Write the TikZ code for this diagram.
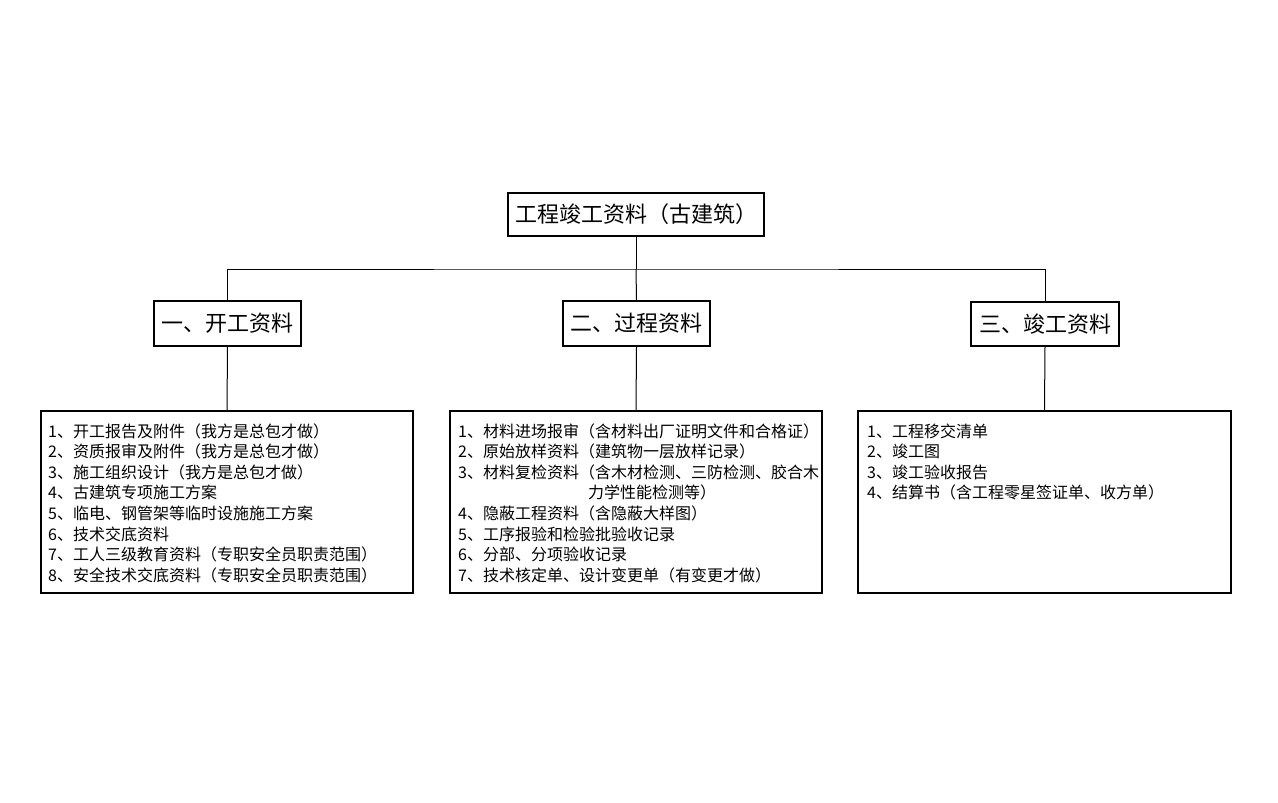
\documentclass[tikz,border=0pt]{standalone}
\usepackage{fontspec}
\newfontfamily\cjk{Noto Sans CJK SC}
\begin{document}
\begin{tikzpicture}[x=1pt,y=-1pt,
  box/.style={draw=black,line width=1.8pt,inner sep=0pt},
  head/.style={box,fill=white,font=\cjk\fontsize{22}{26}\selectfont},
  item/.style={anchor=base west,inner sep=0pt,font=\cjk\fontsize{16}{20}\selectfont},
  conn/.style={draw=black,line width=1pt}]
\useasboundingbox (0,0) rectangle (1278,803);
\fill[white] (0,0) rectangle (1278,803);
% list 1
\foreach \t [count=\k] in {1、开工报告及附件（我方是总包才做）,2、资质报审及附件（我方是总包才做）,3、施工组织设计（我方是总包才做）,4、古建筑专项施工方案,5、临电、钢管架等临时设施施工方案,6、技术交底资料,7、工人三级教育资料（专职安全员职责范围）,8、安全技术交底资料（专职安全员职责范围）}
  \node[item] (p1-\k) at (48,{437+20.6*(\k-1)}) {\t};
% list 2
\node[item] (p2-1) at (458,437) {1、材料进场报审（含材料出厂证明文件和合格证）};
\node[item] (p2-2) at (458,457.6) {2、原始放样资料（建筑物一层放样记录）};
\node[item] (p2-3) at (458,478.2) {3、材料复检资料（含木材检测、三防检测、胶合木};
\node[item] (p2-3b) at (588,498.8) {力学性能检测等）};
\node[item] (p2-4) at (458,519.4) {4、隐蔽工程资料（含隐蔽大样图）};
\node[item] (p2-5) at (458,540) {5、工序报验和检验批验收记录};
\node[item] (p2-6) at (458,560.6) {6、分部、分项验收记录};
\node[item] (p2-7) at (458,581.2) {7、技术核定单、设计变更单（有变更才做）};
% list 3
\foreach \t [count=\k] in {1、工程移交清单,2、竣工图,3、竣工验收报告,4、结算书（含工程零星签证单、收方单）}
  \node[item] (p3-\k) at (867,{437+20.6*(\k-1)}) {\t};
% boxes
\node[head,minimum width=256,minimum height=43] (top) at (636,214.5) {工程竣工资料（古建筑）};
\node[head,minimum width=147,minimum height=45] (a1) at (227.5,323.5) {一、开工资料};
\node[head,minimum width=147,minimum height=45] (a2) at (636.5,323.5) {二、过程资料};
\node[head,minimum width=148,minimum height=44] (a3) at (1045,324) {三、竣工资料};
\node[box,minimum width=372,minimum height=182] (b1) at (227,502) {};
\node[box,minimum width=372,minimum height=182] (b2) at (636,502) {};
\node[box,minimum width=373,minimum height=182] (b3) at (1044.5,502) {};
% connectors
\coordinate (j) at (636,269);
\draw[conn] (top.south) -- (j);
\draw[conn] (a1.north) |- (j) -| (a3.north);
\draw[conn] (j) -- (a2.north);
\draw[conn] (a1.south) -- (b1.north);
\draw[conn] (a2.south) -- (b2.north);
\draw[conn] (a3.south) -- (b3.north);
\end{tikzpicture}
\end{document}
